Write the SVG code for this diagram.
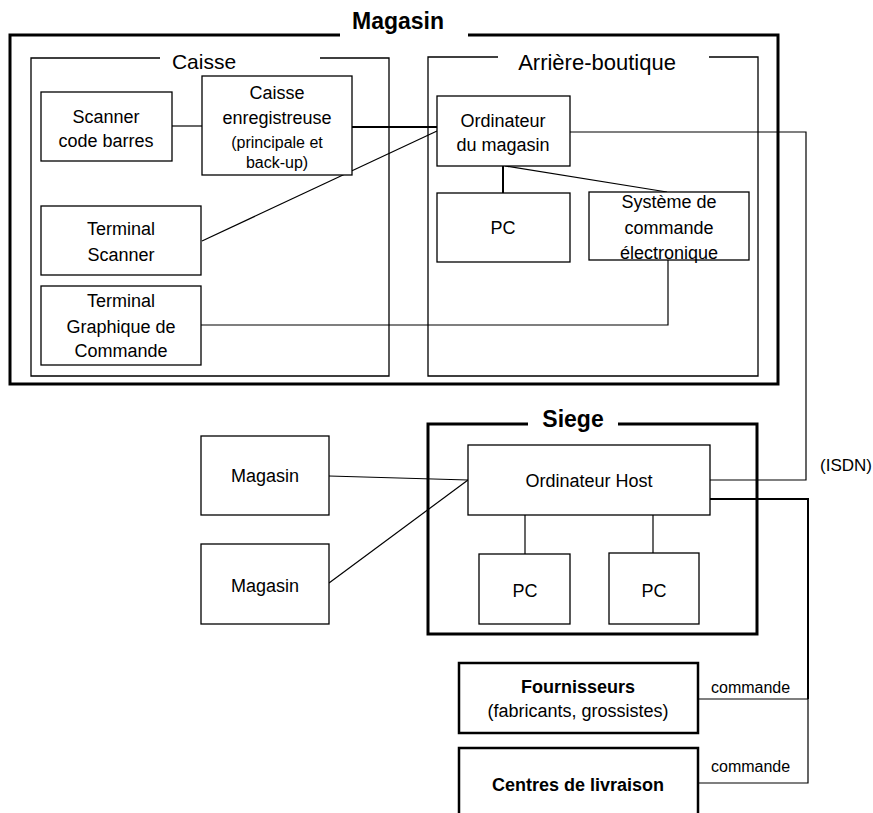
<svg xmlns="http://www.w3.org/2000/svg" width="873" height="813" viewBox="0 0 873 813">
<style>
text{font-family:"Liberation Sans",Arial,sans-serif;fill:#000;text-anchor:middle;font-size:18px}
.t{font-size:21px}
.b{font-weight:bold}
.h{font-size:23px;font-weight:bold}
.s{font-size:16px}
.l{text-anchor:start;font-size:16px}
.frame{fill:none;stroke:#000;stroke-width:3}
.sec{fill:none;stroke:#000;stroke-width:1.3}
.node{fill:#fff;stroke:#000;stroke-width:1.3}
.thick{fill:#fff;stroke:#000;stroke-width:2.5}
.c{fill:none;stroke:#000;stroke-width:1.2}
.c2{fill:none;stroke:#000;stroke-width:2}
</style>
<rect width="873" height="813" fill="#fff"/>
<g id="magasin-frame">
<path class="frame" d="M340,35 H10 V384 H778 V35 H468"/>
<text class="h" x="398" y="29">Magasin</text>
</g>
<g id="caisse-frame">
<path class="sec" d="M160,58 H31 V376 H389 V58 H320"/>
<text class="t" x="204" y="69">Caisse</text>
</g>
<g id="arriere-frame">
<path class="sec" d="M498,57 H428 V376 H758 V57 H709"/>
<text class="t" x="597" y="70" style="font-size:22px">Arrière-boutique</text>
</g>
<g id="siege-frame">
<path class="frame" d="M528,424 H428 V634 H757 V424 H618"/>
<text class="h" x="573" y="427">Siege</text>
</g>
<g id="connectors">
<path class="c" d="M172,126 H202"/>
<path class="c2" d="M352,127 H437"/>
<path class="c" d="M202,241 L437,131"/>
<path class="c" d="M570,132 H806 V480 H710"/>
<path class="c" d="M201,325 H668 V260"/>
<path class="c2" d="M503,166 V193"/>
<path class="c" d="M505,166 L667,192"/>
<path class="c" d="M329,476 L468,480"/>
<path class="c" d="M329,583 L468,480"/>
<path class="c" d="M525,515 V554"/>
<path class="c" d="M653,515 V553"/>
<path class="c2" d="M710,499 H808 V699"/>
<path class="c" d="M698,699 H808 V783 H698"/>
</g>
<g id="scanner">
<rect class="node" x="41" y="92" width="131" height="69"/>
<text x="106" y="123">Scanner</text>
<text x="106" y="147">code barres</text>
</g>
<g id="caisse-enregistreuse">
<rect class="node" x="202" y="76" width="150" height="99"/>
<text x="277" y="99">Caisse</text>
<text x="277" y="124">enregistreuse</text>
<text class="s" x="277" y="148">(principale et</text>
<text class="s" x="277" y="168">back-up)</text>
</g>
<g id="terminal-scanner">
<rect class="node" x="41" y="206" width="160" height="69"/>
<text x="121" y="235">Terminal</text>
<text x="121" y="261">Scanner</text>
</g>
<g id="terminal-graphique">
<rect class="node" x="41" y="286" width="160" height="79"/>
<text x="121" y="307">Terminal</text>
<text x="121" y="333">Graphique de</text>
<text x="121" y="357">Commande</text>
</g>
<g id="ordinateur-magasin">
<rect class="node" x="437" y="96" width="133" height="70"/>
<text x="503" y="127">Ordinateur</text>
<text x="503" y="151">du magasin</text>
</g>
<g id="pc-magasin">
<rect class="node" x="437" y="193" width="133" height="69"/>
<text x="503" y="234">PC</text>
</g>
<g id="systeme-commande">
<rect class="node" x="589" y="192" width="160" height="68"/>
<text x="669" y="208">Système de</text>
<text x="669" y="234">commande</text>
<text x="669" y="259">électronique</text>
</g>
<g id="magasin-1">
<rect class="node" x="201" y="436" width="128" height="79"/>
<text x="265" y="482">Magasin</text>
</g>
<g id="magasin-2">
<rect class="node" x="201" y="544" width="128" height="80"/>
<text x="265" y="592">Magasin</text>
</g>
<g id="ordinateur-host">
<rect class="node" x="468" y="445" width="242" height="70"/>
<text x="589" y="487">Ordinateur Host</text>
</g>
<g id="pc-siege-1">
<rect class="node" x="479" y="554" width="91" height="70"/>
<text x="525" y="597">PC</text>
</g>
<g id="pc-siege-2">
<rect class="node" x="609" y="553" width="90" height="71"/>
<text x="654" y="597">PC</text>
</g>
<g id="fournisseurs">
<rect class="thick" x="459" y="663" width="239" height="70"/>
<text class="b" x="578" y="693">Fournisseurs</text>
<text x="578" y="717">(fabricants, grossistes)</text>
</g>
<g id="centres-livraison">
<rect class="thick" x="459" y="748" width="239" height="80"/>
<text class="b" x="578" y="791">Centres de livraison</text>
</g>
<g id="labels">
<text class="l" x="711" y="693">commande</text>
<text class="l" x="711" y="772">commande</text>
<text class="l" x="820" y="471" style="font-size:17px">(ISDN)</text>
</g>
</svg>
